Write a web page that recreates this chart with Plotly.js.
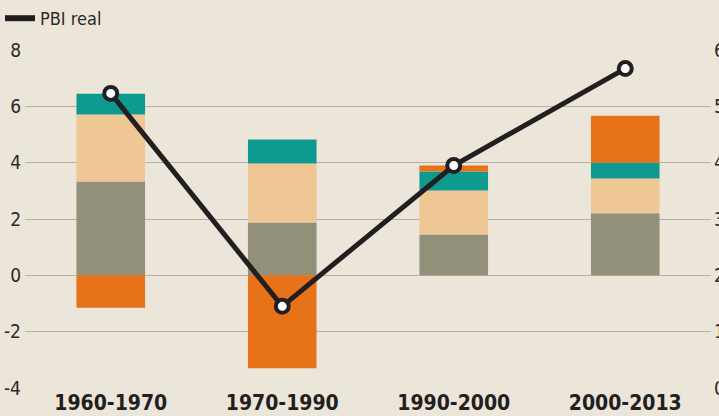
<!DOCTYPE html>
<html>
<head>
<meta charset="utf-8">
<script src="https://cdn.plot.ly/plotly-3.0.1.min.js"></script>
<style>
html,body{margin:0;padding:0;background:#ece6da;}
#chart{width:719px;height:416px;}
</style>
</head>
<body>
<div id="chart"></div>
<script>
const categories = ["1960-1970", "1970-1990", "1990-2000", "2000-2013"];
const grayValues = [3.33, 1.88, 1.45, 2.2];
const tanValues = [2.38, 2.09, 1.56, 1.24];
const tealValues = [0.74, 0.85, 0.68, 0.56];
const orangeValues = [-1.15, -3.3, 0.21, 1.67];
const pbiReal = [5.23, 1.45, 3.95, 5.67];
const leftTicks = [-4, -2, 0, 2, 4, 6, 8];
const leftTickText = ["-4", "-2", "0", "2", "4", "6", "8"];
const rightTicks = [0, 1, 2, 3, 4, 5, 6];

const barTrace = (vals, color) => ({
  type: "bar", x: categories, y: vals, width: 0.4,
  marker: {color: color, line: {width: 0}},
  showlegend: false, hoverinfo: "skip"
});

const traces = [
  barTrace(grayValues, "#939079"),
  barTrace(tanValues, "#efc795"),
  barTrace(tealValues, "#0e9a8f"),
  barTrace(orangeValues, "#e8721a"),
  {
    type: "scatter", mode: "lines+markers", x: categories, y: pbiReal, yaxis: "y2",
    line: {color: "#231f20", width: 5},
    marker: {size: 13, color: "#ffffff", line: {color: "#231f20", width: 4}},
    showlegend: false
  },
  {
    type: "scatter", mode: "lines", x: [null], y: [null], yaxis: "y2",
    name: "PBI real", line: {color: "#231f20", width: 6}, showlegend: true
  }
];

const fontFam = "'Liberation Sans Narrow', 'DejaVu Sans Condensed', 'Arial Narrow', sans-serif";

const layout = {
  width: 719, height: 416,
  margin: {l: 25, r: 8, t: 50, b: 28, autoexpand: false},
  paper_bgcolor: "#ece6da",
  plot_bgcolor: "rgba(0,0,0,0)",
  barmode: "relative",
  bargap: 0.6,
  font: {family: fontFam, color: "#2a2a2a"},
  xaxis: {
    type: "category", automargin: false,
    tickfont: {size: 21, family: fontFam, weight: "bold", color: "#231f20"},
    showgrid: false, zeroline: false, showline: false, ticks: "",
    ticklabelstandoff: 0
  },
  yaxis: {
    range: [-4, 8], tickvals: leftTicks, ticktext: leftTickText, automargin: false,
    showgrid: true, gridcolor: "#b5b0a5", gridwidth: 1,
    zeroline: false, showline: false, ticks: "",
    tickfont: {size: 19, family: fontFam, color: "#2a2a2a"},
    ticklabelstandoff: 3
  },
  yaxis2: {
    range: [0, 6], tickvals: rightTicks, overlaying: "y", side: "right", automargin: false,
    showgrid: false, zeroline: false, showline: false, ticks: "",
    tickfont: {size: 19, family: fontFam, color: "#2a2a2a"},
    ticklabelstandoff: 2
  },
  legend: {
    xref: "container", yref: "container",
    x: 0, y: 1, xanchor: "left", yanchor: "top",
    bgcolor: "rgba(0,0,0,0)",
    font: {size: 18, family: fontFam, color: "#2a2a2a"},
    itemwidth: 30, tracegroupgap: 0
  },
  showlegend: true
};

Plotly.newPlot("chart", traces, layout, {displayModeBar: false, staticPlot: true});
</script>
</body>
</html>
